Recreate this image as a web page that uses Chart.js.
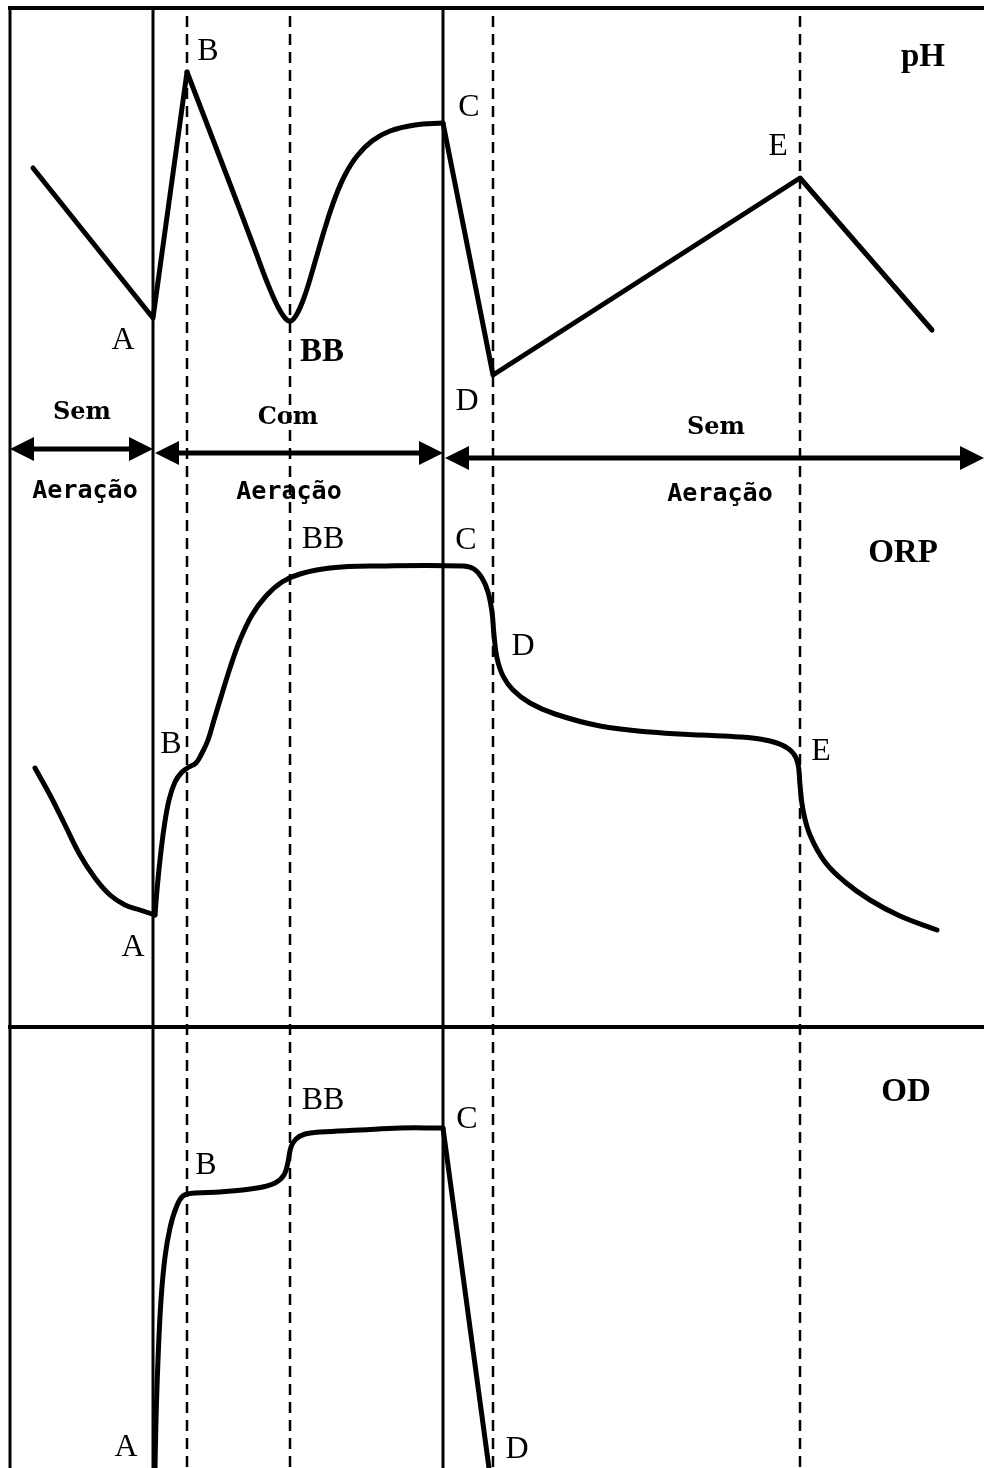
<!DOCTYPE html>
<html><head><meta charset="utf-8">
<script src="https://cdn.jsdelivr.net/npm/chart.js@4.4.1/dist/chart.umd.min.js"></script>
<style>html,body{margin:0;padding:0;background:#fff;}canvas{display:block;}</style>
</head><body>
<canvas id="c" width="984" height="1468"></canvas>
<script>
// ---- time axis (arbitrary units) ----
const timeMin = 0, timeMax = 984;
const solidLines = [153, 443];          // A, C
const dashedLines = [187, 290, 493, 800]; // B, BB, D, E

// ---- pH (relative level) ----
const phSeg1X = [33, 153, 187];
const phSeg1Y = [272, 122, 368];
const phCurveX = [187, 230, 255, 267, 277, 285, 291, 298, 306, 315, 325, 335, 345, 357, 372, 390, 415, 443];
const phCurveY = [368, 256, 190, 158, 135, 122, 119, 128, 148, 178, 212, 242, 265, 284, 299, 309, 315, 317];
const phSeg3X = [443, 493, 800, 932];
const phSeg3Y = [317, 65, 262, 110];

// ---- ORP (relative level) ----
const orpDownX = [35, 50, 65, 80, 95, 110, 125, 140, 155];
const orpDownY = [259, 232, 202, 172, 149, 132, 122, 117, 112];
const orpUpX = [155,157,160,164,169,175,182,189,196,202,208,214,221,230,240,252,266,282,300,330,380,463,474,482,488,492,494,497,503,513,530,555,600,650,700,740,765,782,793,798,800,803,810,825,845,870,900,937];
const orpUpY = [112,137,167,199,227,245,255,260,264,274,287,307,330,359,387,412,431,445,453,459,461,461,458,449,435,415,392,369,351,337,324,313,301,295,292,290,287,282,274,263,242,217,192,165,145,127,111,97];

// ---- OD (relative level) ----
const odUpX = [155,156,158,161,165,170,176,183,195,220,257,275,284,288,291,296,305,320,360,400,443];
const odUpY = [0,48,108,168,211,240,260,272,275,276,280,285,293,306,321,329,334,336,338,340,340];
const odDownX = [443, 489];
const odDownY = [340, 0];

// ---- labels ----
const phLabels = [['B',208,388],['C',469,332],['E',778,293],['A',123,99],['D',467,38]];
const phBold = [['pH',923,383],['BB',322,88]];
const phaseTop = [['Sem',82,27],['Com',288,22],['Sem',716,12]];
const phaseBottom = [['Aeração',85,-51],['Aeração',289,-52],['Aeração',720,-54]];
const phaseArrows = [[10,153,-9],[155,443,-13],[445,984,-18]];
const orpLabels = [['BB',323,487],['C',466,486],['D',523,380],['B',171,282],['E',821,275],['A',133,79]];
const orpBold = [['ORP',903,474]];
const odLabels = [['BB',323,367],['C',467,348],['B',206,302],['A',126,20],['D',517,18]];
const odBold = [['OD',906,376]];

const pts = (xs, ys) => xs.map((x, i) => ({x, y: ys[i]}));
const base = {borderColor:'#000', pointRadius:0, fill:false, borderWidth:5, borderCapStyle:'round', borderJoinStyle:'round'};

const decor = {
  id:'decor',
  beforeDatasetsDraw(chart){
    const ctx = chart.ctx, x = chart.scales.x, yP = chart.scales.yPH, yO = chart.scales.yORP;
    const top = yP.getPixelForValue(432), bottom = chart.chartArea.bottom;
    ctx.save();
    ctx.strokeStyle = '#000';
    ctx.lineWidth = 4;
    ctx.beginPath(); ctx.moveTo(x.getPixelForValue(8), top); ctx.lineTo(x.getPixelForValue(984), top); ctx.stroke();
    ctx.beginPath(); ctx.moveTo(x.getPixelForValue(8), yO.getPixelForValue(0)); ctx.lineTo(x.getPixelForValue(984), yO.getPixelForValue(0)); ctx.stroke();
    ctx.lineWidth = 3;
    ctx.beginPath(); ctx.moveTo(x.getPixelForValue(10), top); ctx.lineTo(x.getPixelForValue(10), bottom); ctx.stroke();
    solidLines.forEach(v => { ctx.beginPath(); ctx.moveTo(x.getPixelForValue(v), top); ctx.lineTo(x.getPixelForValue(v), bottom); ctx.stroke(); });
    ctx.lineWidth = 2.5; ctx.setLineDash([11, 7]);
    dashedLines.forEach(v => { ctx.beginPath(); ctx.moveTo(x.getPixelForValue(v), top + 8); ctx.lineTo(x.getPixelForValue(v), bottom); ctx.stroke(); });
    ctx.setLineDash([]);
    ctx.fillStyle = '#000'; ctx.lineWidth = 5;
    phaseArrows.forEach(([a, b, v]) => {
      const y = yP.getPixelForValue(v), xa = x.getPixelForValue(a), xb = x.getPixelForValue(b);
      ctx.beginPath(); ctx.moveTo(xa + 10, y); ctx.lineTo(xb - 10, y); ctx.stroke();
      ctx.beginPath(); ctx.moveTo(xa, y); ctx.lineTo(xa + 24, y - 12); ctx.lineTo(xa + 24, y + 12); ctx.closePath(); ctx.fill();
      ctx.beginPath(); ctx.moveTo(xb, y); ctx.lineTo(xb - 24, y - 12); ctx.lineTo(xb - 24, y + 12); ctx.closePath(); ctx.fill();
    });
    ctx.restore();
  },
  afterDatasetsDraw(chart){
    const ctx = chart.ctx, x = chart.scales.x;
    ctx.save();
    ctx.fillStyle = '#000'; ctx.textAlign = 'center'; ctx.textBaseline = 'middle';
    const put = (list, axis, font) => { ctx.font = font; list.forEach(([t, a, v]) => ctx.fillText(t, x.getPixelForValue(a), chart.scales[axis].getPixelForValue(v))); };
    const serif = '"Liberation Serif", "Times New Roman", serif';
    put(phLabels, 'yPH', '32px ' + serif);
    put(phBold, 'yPH', 'bold 33px ' + serif);
    put(orpLabels, 'yORP', '32px ' + serif);
    put(orpBold, 'yORP', 'bold 33px ' + serif);
    put(odLabels, 'yOD', '32px ' + serif);
    put(odBold, 'yOD', 'bold 33px ' + serif);
    put(phaseTop, 'yPH', 'bold 24px "DejaVu Serif", serif');
    put(phaseBottom, 'yPH', 'bold 25px "DejaVu Sans Mono", monospace');
    ctx.restore();
  }
};

new Chart(document.getElementById('c'), {
  type: 'line',
  data: { datasets: [
    {...base, data: pts(phSeg1X, phSeg1Y), yAxisID:'yPH', tension:0},
    {...base, data: pts(phCurveX, phCurveY), yAxisID:'yPH', tension:0.4},
    {...base, data: pts(phSeg3X, phSeg3Y), yAxisID:'yPH', tension:0},
    {...base, data: pts(orpDownX, orpDownY), yAxisID:'yORP', tension:0.4},
    {...base, data: pts(orpUpX, orpUpY), yAxisID:'yORP', tension:0.4},
    {...base, data: pts(odUpX, odUpY), yAxisID:'yOD', tension:0.4},
    {...base, data: pts(odDownX, odDownY), yAxisID:'yOD', tension:0}
  ]},
  options: {
    responsive:false, animation:false, devicePixelRatio:1,
    layout:{padding:0},
    plugins:{legend:{display:false}, tooltip:{enabled:false}},
    scales:{
      x:{type:'linear', min:timeMin, max:timeMax, display:false},
      yPH:{type:'linear', min:-1028, max:440, display:false},
      yORP:{type:'linear', min:-441, max:1027, display:false},
      yOD:{type:'linear', min:0, max:1468, display:false}
    }
  },
  plugins:[decor]
});
</script>
</body></html>
